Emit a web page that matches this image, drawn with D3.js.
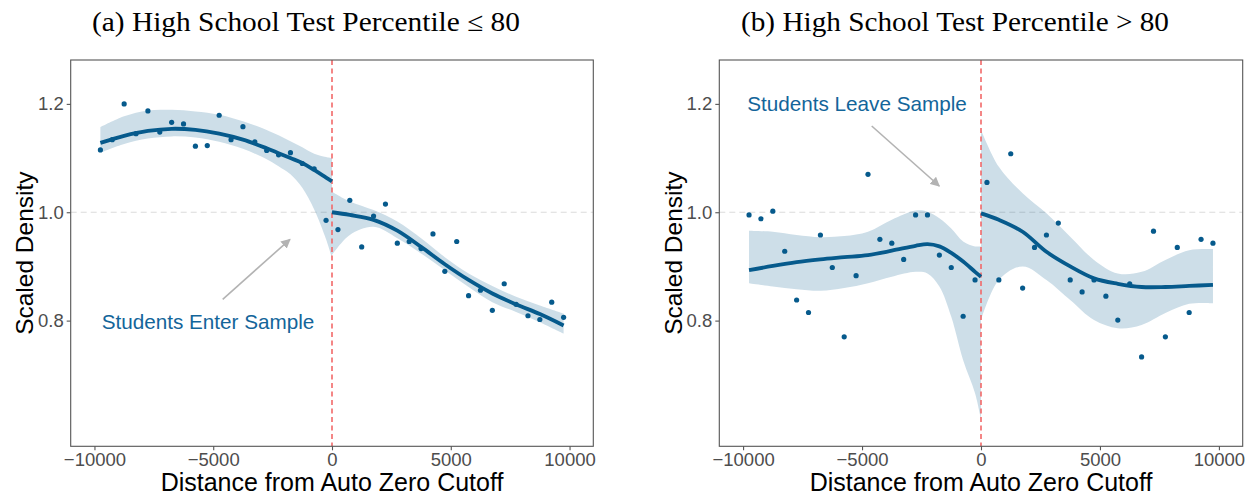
<!DOCTYPE html>
<html>
<head>
<meta charset="utf-8">
<script src="https://cdn.jsdelivr.net/npm/d3@7"></script>
<style>
  body { margin: 0; background: #fff; }
  svg { display: block; }
</style>
</head>
<body>
<svg id="chart" width="1255" height="500"></svg>
<script>
// Bin midpoints (distance from the auto-zero cutoff)
const binX = [-9750, -9250, -8750, -8250, -7750, -7250, -6750, -6250, -5750, -5250,
              -4750, -4250, -3750, -3250, -2750, -2250, -1750, -1250, -750, -250,
              250, 750, 1250, 1750, 2250, 2750, 3250, 3750, 4250, 4750,
              5250, 5750, 6250, 6750, 7250, 7750, 8250, 8750, 9250, 9750];

// Scaled density by bin, test percentile <= 80
const densityLow = [1.115, 1.134, 1.200, 1.145, 1.187, 1.148, 1.166, 1.163, 1.122, 1.123,
                    1.179, 1.134, 1.158, 1.130, 1.114, 1.106, 1.110, 1.090, 1.080, 0.985,
                    0.968, 1.022, 0.936, 0.993, 1.015, 0.943, 0.946, 0.933, 0.960, 0.891,
                    0.946, 0.846, 0.856, 0.819, 0.868, 0.830, 0.809, 0.802, 0.834, 0.806];

// Scaled density by bin, test percentile > 80
const densityHigh = [0.995, 0.988, 1.002, 0.928, 0.838, 0.815, 0.958, 0.898, 0.770, 0.883,
                     1.070, 0.950, 0.943, 0.913, 0.995, 0.995, 0.921, 0.898, 0.808, 0.875,
                     1.055, 0.875, 1.108, 0.860, 0.935, 0.958, 0.980, 0.875, 0.853, 0.875,
                     0.845, 0.801, 0.868, 0.733, 0.965, 0.770, 0.935, 0.815, 0.950, 0.943];

// Evaluation grids for the smoothed fits on each side of the cutoff
const fitXLeft  = [-9750, -8750, -7750, -6750, -5750, -4750, -3750, -2750, -2250, -1750, -1250, -750, -250, 0];
const fitXRight = [0, 750, 1750, 2750, 3750, 4750, 5750, 6750, 7750, 8750, 9750];

// Smoothed fit and confidence band, percentile <= 80
const fitLowLeft    = [1.128, 1.141, 1.150, 1.154, 1.152, 1.145, 1.134, 1.118, 1.109, 1.100, 1.091, 1.078, 1.064, 1.057];
const upperLowLeft  = [1.157, 1.177, 1.188, 1.189, 1.186, 1.180, 1.168, 1.152, 1.142, 1.131, 1.120, 1.108, 1.102, 1.100];
const lowerLowLeft  = [1.110, 1.126, 1.136, 1.140, 1.138, 1.130, 1.117, 1.098, 1.085, 1.070, 1.045, 1.005, 0.950, 0.915];
const fitLowRight   = [1.000, 0.995, 0.986, 0.966, 0.936, 0.904, 0.875, 0.850, 0.830, 0.812, 0.791];
const upperLowRight = [1.038, 1.020, 1.004, 0.983, 0.952, 0.917, 0.887, 0.864, 0.844, 0.828, 0.813];
const lowerLowRight = [0.921, 0.958, 0.973, 0.952, 0.924, 0.893, 0.862, 0.834, 0.816, 0.797, 0.776];

// Smoothed fit and confidence band, percentile > 80
const fitHighLeft    = [0.893, 0.901, 0.908, 0.913, 0.917, 0.921, 0.929, 0.938, 0.941, 0.937, 0.925, 0.909, 0.890, 0.881];
const upperHighLeft  = [0.966, 0.964, 0.958, 0.954, 0.956, 0.964, 0.986, 1.003, 1.001, 0.989, 0.970, 0.946, 0.937, 0.937];
const lowerHighLeft  = [0.869, 0.863, 0.858, 0.855, 0.860, 0.869, 0.881, 0.890, 0.887, 0.863, 0.807, 0.727, 0.666, 0.617];
const fitHighRight   = [0.998, 0.986, 0.964, 0.927, 0.900, 0.878, 0.868, 0.862, 0.862, 0.864, 0.866];
const upperHighRight = [1.152, 1.084, 1.035, 0.998, 0.955, 0.912, 0.887, 0.890, 0.912, 0.930, 0.932];
const lowerHighRight = [0.801, 0.875, 0.900, 0.875, 0.838, 0.801, 0.786, 0.792, 0.814, 0.831, 0.832];

// Axis ticks
const xTicks = [-10000, -5000, 0, 5000, 10000];
const yTicks = [0.8, 1.0, 1.2];

const svg = d3.select("#chart");
const BLUE = "#065a8c";
const SANS = "'Liberation Sans', Arial, Helvetica, sans-serif";
const SERIF = "'Liberation Serif', 'DejaVu Serif', serif";
const TOP = 60, BOTTOM = 446.3;

function drawPanel(opt) {
  const g = svg.append("g");
  const x = d3.scaleLinear().domain([-11000, 11000]).range([opt.left, opt.right]);
  const y = d3.scaleLinear().domain([0.568, 1.281]).range([BOTTOM, TOP]);

  // clip to the panel
  const clipId = "clip-" + opt.id;
  g.append("clipPath").attr("id", clipId)
    .append("rect").attr("x", opt.left).attr("y", TOP)
    .attr("width", opt.right - opt.left).attr("height", BOTTOM - TOP);
  const plot = g.append("g").attr("clip-path", `url(#${clipId})`);

  // reference line at density 1
  plot.append("line")
    .attr("x1", opt.left).attr("x2", opt.right)
    .attr("y1", y(1)).attr("y2", y(1))
    .attr("stroke", "#dcdcdc").attr("stroke-width", 1.1)
    .attr("stroke-dasharray", "6,4");

  // confidence bands
  const band = d3.area().curve(d3.curveCatmullRom.alpha(0.5))
    .x(d => x(d[0])).y0(d => y(d[2])).y1(d => y(d[1]));
  [[fitXLeft, opt.upperL, opt.lowerL], [fitXRight, opt.upperR, opt.lowerR]].forEach(([xs, up, lo]) => {
    plot.append("path")
      .datum(xs.map((v, i) => [v, up[i], lo[i]]))
      .attr("d", band)
      .attr("fill", BLUE).attr("fill-opacity", 0.2);
  });

  // cutoff
  plot.append("line")
    .attr("x1", x(0)).attr("x2", x(0))
    .attr("y1", TOP).attr("y2", BOTTOM)
    .attr("stroke", "#f26868").attr("stroke-width", 1.6)
    .attr("stroke-dasharray", "5,3.5");

  // binned points
  plot.selectAll("circle.pt").data(binX.map((v, i) => [v, opt.density[i]]))
    .join("circle").attr("class", "pt")
    .attr("cx", d => x(d[0])).attr("cy", d => y(d[1])).attr("r", 2.6)
    .attr("fill", BLUE);

  // fitted curves
  const line = d3.line().curve(d3.curveCatmullRom.alpha(0.5))
    .x(d => x(d[0])).y(d => y(d[1]));
  [[fitXLeft, opt.fitL], [fitXRight, opt.fitR]].forEach(([xs, ys]) => {
    plot.append("path")
      .datum(xs.map((v, i) => [v, ys[i]]))
      .attr("d", line)
      .attr("fill", "none").attr("stroke", BLUE).attr("stroke-width", 3.8)
      .attr("stroke-linecap", "butt");
  });

  // frame
  g.append("rect")
    .attr("x", opt.left).attr("y", TOP)
    .attr("width", opt.right - opt.left).attr("height", BOTTOM - TOP)
    .attr("fill", "none").attr("stroke", "#555").attr("stroke-width", 1.1);

  // axes
  const xAxis = g.append("g").attr("transform", `translate(0,${BOTTOM})`)
    .call(d3.axisBottom(x).tickValues(xTicks).tickSize(4).tickPadding(3)
      .tickFormat(d => d3.format("d")(d).replace("-", "\u2212")));
  const yAxis = g.append("g").attr("transform", `translate(${opt.left},0)`)
    .call(d3.axisLeft(y).tickValues(yTicks).tickSize(4).tickPadding(3)
      .tickFormat(d3.format(".1f")));
  [xAxis, yAxis].forEach(a => {
    a.select(".domain").remove();
    a.selectAll(".tick line").attr("stroke", "#555").attr("stroke-width", 1.1);
    a.selectAll(".tick text").attr("fill", "#4d4d4d")
      .style("font-family", SANS).style("font-size", "18.5px");
  });

  // axis titles
  g.append("text")
    .attr("x", (opt.left + opt.right) / 2).attr("y", 491)
    .attr("text-anchor", "middle")
    .style("font-family", SANS).style("font-size", "25px").attr("fill", "#000")
    .text("Distance from Auto Zero Cutoff");
  g.append("text")
    .attr("transform", `translate(${opt.left - 37.5},${(TOP + BOTTOM) / 2}) rotate(-90)`)
    .attr("text-anchor", "middle")
    .style("font-family", SANS).style("font-size", "24.5px").attr("fill", "#000")
    .text("Scaled Density");

  // panel title
  g.append("text")
    .attr("x", opt.titleX).attr("y", 31)
    .attr("text-anchor", "middle")
    .attr("textLength", 428).attr("lengthAdjust", "spacingAndGlyphs")
    .style("font-family", SERIF).style("font-size", "27px").attr("fill", "#000")
    .text(opt.title);

  // annotation
  g.append("text")
    .attr("x", opt.note.x).attr("y", opt.note.y)
    .attr("text-anchor", "middle")
    .style("font-family", SANS).style("font-size", "20.7px").attr("fill", "#13659a")
    .text(opt.note.text);
  g.append("line")
    .attr("x1", opt.arrow[0]).attr("y1", opt.arrow[1])
    .attr("x2", opt.arrow[2]).attr("y2", opt.arrow[3])
    .attr("stroke", "#b3b3b3").attr("stroke-width", 1.6)
    .attr("marker-end", "url(#arrowhead)");
}

svg.append("defs").append("marker")
  .attr("id", "arrowhead").attr("viewBox", "0 0 10 10")
  .attr("refX", 9).attr("refY", 5)
  .attr("markerWidth", 6).attr("markerHeight", 6)
  .attr("markerUnits", "strokeWidth")
  .attr("orient", "auto")
  .append("path").attr("d", "M0,0 L10,5 L0,10 Z").attr("fill", "#b3b3b3");

drawPanel({
  id: "a", left: 70.7, right: 593.3, titleX: 306,
  title: "(a) High School Test Percentile \u2264 80",
  density: densityLow,
  fitL: fitLowLeft, upperL: upperLowLeft, lowerL: lowerLowLeft,
  fitR: fitLowRight, upperR: upperLowRight, lowerR: lowerLowRight,
  note: { text: "Students Enter Sample", x: 208, y: 329 },
  arrow: [222.7, 299.3, 290, 239.3]
});

drawPanel({
  id: "b", left: 719.3, right: 1242.7, titleX: 955,
  title: "(b) High School Test Percentile > 80",
  density: densityHigh,
  fitL: fitHighLeft, upperL: upperHighLeft, lowerL: lowerHighLeft,
  fitR: fitHighRight, upperR: upperHighRight, lowerR: lowerHighRight,
  note: { text: "Students Leave Sample", x: 857, y: 111 },
  arrow: [871.7, 126, 939.3, 186]
});
</script>
</body>
</html>
